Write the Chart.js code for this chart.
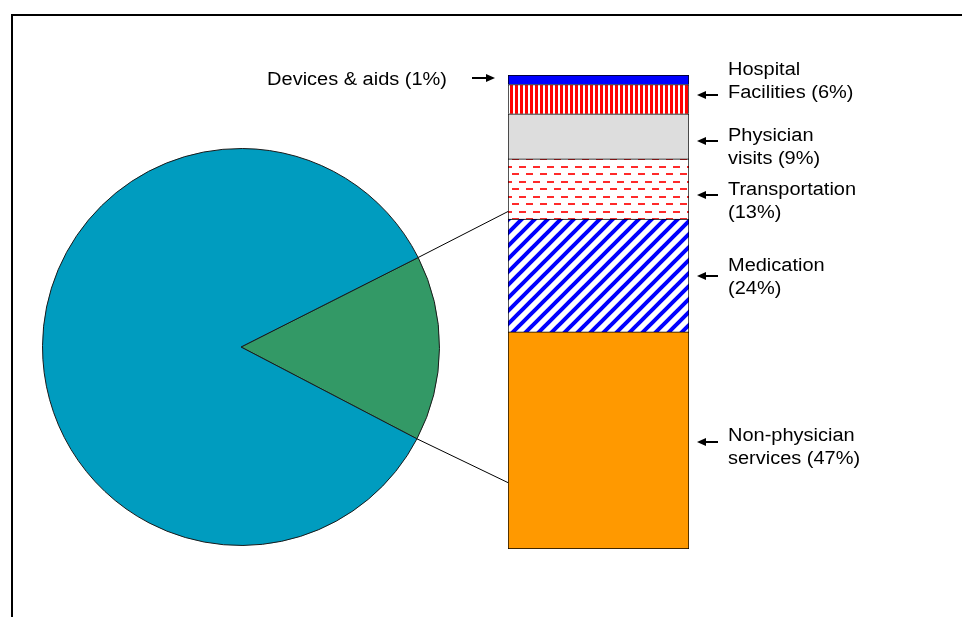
<!DOCTYPE html>
<html><head><meta charset="utf-8">
<script src="https://cdn.jsdelivr.net/npm/chart.js@4"></script>
<style>
html,body{margin:0;padding:0;background:#fff;}
#wrap{position:relative;width:962px;height:617px;overflow:hidden;background:#fff;}
#frame{position:absolute;left:11px;top:14px;width:960px;height:620px;border-top:2px solid #000;border-left:2px solid #000;}
#barCanvas{position:absolute;left:0;top:0;}
#pieCanvas{position:absolute;left:42px;top:148px;}
</style></head><body>
<div id="wrap">
  <div id="frame"></div>
  <canvas id="barCanvas" width="962" height="617"></canvas>
  <canvas id="pieCanvas" width="398" height="398"></canvas>
</div>
<script>
// ---- data ----
const pieLabels = ['Breakdown (shown in bar)', 'Other'];
const pieValues = [15.1, 84.9];
const pieColors = ['#339966', '#009CBF'];

const segmentNames = ['Non-physician services', 'Medication', 'Transportation', 'Physician visits', 'Hospital Facilities', 'Devices & aids'];
const segmentValues = [45.8, 23.8, 12.7, 9.5, 6.2, 2.0];
const segmentLabelLines = [
  ['Non-physician', 'services (47%)'],
  ['Medication', '(24%)'],
  ['Transportation', '(13%)'],
  ['Physician', 'visits (9%)'],
  ['Hospital', 'Facilities (6%)'],
  ['Devices & aids (1%)']
];
const segmentLabelSide = ['right', 'right', 'right', 'right', 'right', 'left'];
const connectorValues = [71.2, 14.0]; // where the connector lines meet the bar (bar scale units)

// ---- layout nudges (px) ----
const arrowNudge = [1.5, 0.5, 6, 4.5, -4.5, -2];
const textNudge = [-6, -10, -5, -5, -25, 2];
const LINE_H = 23;
const FONT = '18px "Liberation Sans", Arial, sans-serif';
const TEXT_STRETCH = 1.11;

// ---- patterns ----
function makePattern(w, h, draw) {
  const c = document.createElement('canvas');
  c.width = w; c.height = h;
  const g = c.getContext('2d');
  g.fillStyle = '#fff'; g.fillRect(0, 0, w, h);
  draw(g, w, h);
  return g.createPattern(c, 'repeat');
}
const vertStripes = makePattern(5, 5, g => { g.fillStyle = '#ff0000'; g.fillRect(0, 0, 3, 5); });
const dashRows = makePattern(14, 15, g => {
  g.fillStyle = '#ff2a2a';
  g.fillRect(1, 1, 7, 2);
  g.fillRect(8, 8, 7, 2);
  g.fillRect(0, 8, 1, 2);
});
const diagStripes = makePattern(13, 13, g => {
  g.strokeStyle = '#0000ff'; g.lineWidth = 4;
  g.beginPath();
  g.moveTo(-2, 15); g.lineTo(15, -2);
  g.moveTo(-15, 15); g.lineTo(2, -2);
  g.moveTo(11, 15); g.lineTo(28, -2);
  g.stroke();
});
const segmentFills = ['#FF9900', diagStripes, dashRows, '#DDDDDD', vertStripes, '#0000FF'];

// ---- pie ----
const pieChart = new Chart(document.getElementById('pieCanvas'), {
  type: 'pie',
  data: { labels: pieLabels, datasets: [{ data: pieValues, backgroundColor: pieColors, borderColor: '#1a1a1a', borderWidth: 1 }] },
  options: {
    responsive: false, animation: false, rotation: 63.2,
    layout: { padding: 0 },
    plugins: { legend: { display: false }, tooltip: { enabled: false } }
  }
});

// ---- bar annotations ----
function drawArrow(ctx, xTail, xTip, y) {
  ctx.save();
  ctx.strokeStyle = '#000'; ctx.fillStyle = '#000'; ctx.lineWidth = 2;
  const dir = Math.sign(xTip - xTail);
  ctx.beginPath(); ctx.moveTo(xTail, y); ctx.lineTo(xTip - dir * 4, y); ctx.stroke();
  ctx.beginPath();
  ctx.moveTo(xTip, y); ctx.lineTo(xTip - dir * 9, y - 4); ctx.lineTo(xTip - dir * 9, y + 4);
  ctx.closePath(); ctx.fill();
  ctx.restore();
}
function drawText(ctx, t, x, y, align) {
  ctx.save();
  ctx.translate(x, y);
  ctx.scale(TEXT_STRETCH, 1);
  ctx.textAlign = align;
  ctx.fillText(t, 0, 0);
  ctx.restore();
}

const annotations = {
  id: 'annotations',
  afterDatasetsDraw(chart) {
    const ctx = chart.ctx;
    const area = chart.chartArea;
    const yScale = chart.scales.y;
    // connectors
    const arc = pieChart.getDatasetMeta(0).data[0];
    const pc = document.getElementById('pieCanvas');
    const ox = pc.offsetLeft, oy = pc.offsetTop;
    const r = arc.outerRadius;
    const pts = [arc.startAngle, arc.endAngle].map(a => [ox + arc.x + r * Math.cos(a), oy + arc.y + r * Math.sin(a)]);
    ctx.save();
    ctx.strokeStyle = '#000'; ctx.lineWidth = 1;
    pts.forEach((p, i) => {
      ctx.beginPath(); ctx.moveTo(p[0], p[1]);
      ctx.lineTo(area.left, yScale.getPixelForValue(connectorValues[i]));
      ctx.stroke();
    });
    ctx.restore();
    // labels and arrows
    ctx.save();
    ctx.font = FONT; ctx.fillStyle = '#000'; ctx.textBaseline = 'middle';
    let cum = 0;
    segmentValues.forEach((v, i) => {
      const yc = (yScale.getPixelForValue(cum) + yScale.getPixelForValue(cum + v)) / 2;
      cum += v;
      const ay = Math.round(yc + arrowNudge[i]);
      const ty = ay + textNudge[i];
      if (segmentLabelSide[i] === 'right') {
        drawArrow(ctx, area.right + 29, area.right + 8, ay);
        segmentLabelLines[i].forEach((t, k) => drawText(ctx, t, area.right + 39, ty + k * LINE_H, 'left'));
      } else {
        drawArrow(ctx, area.left - 36, area.left - 13, ay);
        segmentLabelLines[i].forEach((t, k) => drawText(ctx, t, area.left - 61, ty + k * LINE_H, 'right'));
      }
    });
    ctx.restore();
  }
};

const barChart = new Chart(document.getElementById('barCanvas'), {
  type: 'bar',
  data: {
    labels: ['Breakdown'],
    datasets: segmentValues.map((v, i) => ({
      label: segmentNames[i],
      data: [v],
      backgroundColor: segmentFills[i],
      borderColor: '#000',
      borderWidth: { top: 1, left: 1, right: 1, bottom: i === 0 ? 1 : 0 },
      borderSkipped: false,
      barPercentage: 1,
      categoryPercentage: 1
    }))
  },
  options: {
    responsive: false, animation: false,
    layout: { padding: { left: 508, right: 273, top: 75, bottom: 68 } },
    scales: {
      x: { stacked: true, display: false },
      y: { stacked: true, display: false, min: 0, max: 100 }
    },
    plugins: { legend: { display: false }, tooltip: { enabled: false } }
  },
  plugins: [annotations]
});
</script>
</body></html>
